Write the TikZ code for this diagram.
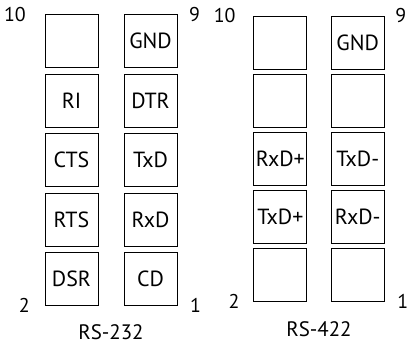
\documentclass[tikz,border=0pt]{standalone}
\usepackage{fontspec}
\setsansfont{PT Sans}
\usetikzlibrary{positioning}

\begin{document}
\begin{tikzpicture}[x=1bp,y=-1bp,on grid,font=\sffamily]

		\useasboundingbox (0,0) rectangle (407,345);

		\pgfmathsetmacro{\pitchA}{59.5}
		\pgfmathsetmacro{\pitchB}{58.1}

		\tikzset{
			pinBox/.style={
				draw,
				line width=0.9pt,
				minimum width=53bp,
				minimum height=53bp,
				inner sep=0,
				outer sep=0pt,
				font=\sffamily\fontsize{22}{26}\selectfont,
			},
			pinNum/.style={
				inner sep=0,
				font=\sffamily\fontsize{20}{24}\selectfont,
			},
			connName/.style={
				inner sep=0,
				font=\sffamily\fontsize{21}{25}\selectfont,
			},
		}

		% RS-232, even pins
		\node[pinBox] (a10) at (71.5,41.25) {};
		\node[pinBox,below=\pitchA bp of a10] (a8) {RI};
		\node[pinBox,below=\pitchA bp of a8] (a6) {CTS};
		\node[pinBox,below=\pitchA bp of a6] (a4) {RTS};
		\node[pinBox,below=\pitchA bp of a4] (a2) {DSR};

		% RS-232, odd pins
		\node[pinBox,right=79bp of a10] (a9) {GND};
		\node[pinBox,right=79bp of a8] (a7) {DTR};
		\node[pinBox,right=79bp of a6] (a5) {TxD};
		\node[pinBox,right=79bp of a4] (a3) {RxD};
		\node[pinBox,right=79bp of a2] (a1) {CD};

		% RS-232, numbers
		\node[pinNum,left=19bp of a10.north west] (a10num) {10};
		\node[pinNum,right=12bp of a9.north east] (a9num) {9};
		\node[pinNum,left=15bp of a2.south west] (a2num) {2};
		\node[pinNum,right=13bp of a1.south east] (a1num) {1};
		\path (a2.south) -- node[connName,yshift=-26bp] (aname) {RS-232} (a1.south);

		% RS-422, even pins
		\node[pinBox] (b10) at (280.3,42.5) {};
		\node[pinBox,below=\pitchB bp of b10] (b8) {};
		\node[pinBox,below=\pitchB bp of b8] (b6) {RxD+};
		\node[pinBox,below=\pitchB bp of b6] (b4) {TxD+};
		\node[pinBox,below=\pitchB bp of b4] (b2) {};

		% RS-422, odd pins
		\node[pinBox,right=77.4bp of b10] (b9) {GND};
		\node[pinBox,right=77.4bp of b8] (b7) {};
		\node[pinBox,right=77.4bp of b6] (b5) {TxD-};
		\node[pinBox,right=77.4bp of b4] (b3) {RxD-};
		\node[pinBox,right=77.4bp of b2] (b1) {};

		% RS-422, numbers
		\node[pinNum,left=18bp of b10.north west] (b10num) {10};
		\node[pinNum,right=11bp of b9.north east] (b9num) {9};
		\node[pinNum,left=14bp of b2.south west] (b2num) {2};
		\node[pinNum,right=13bp of b1.south east] (b1num) {1};
		\path (b2.south) -- node[connName,yshift=-28bp] (bname) {RS-422} (b1.south);

	\end{tikzpicture}
\end{document}
